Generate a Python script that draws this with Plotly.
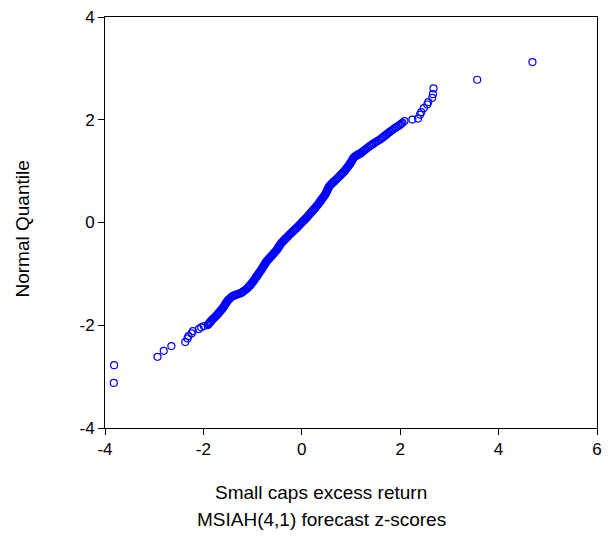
import plotly.graph_objects as go

# Normal Q-Q plot: sorted forecast z-scores (x) against normal quantiles (y)

# lower tail
low_z = [-3.821, -3.815, -2.933, -2.806, -2.651, -2.369, -2.323, -2.302,
         -2.240, -2.214, -2.093, -2.046, -1.990, -1.911]
low_q = [-3.122, -2.777, -2.615, -2.498, -2.406, -2.327, -2.256, -2.211,
         -2.160, -2.113, -2.074, -2.041, -2.016, -1.996]

# central body
body_q = [-1.98, -1.96, -1.94, -1.92, -1.90, -1.88, -1.86, -1.84, -1.82, -1.80,
          -1.78, -1.76, -1.74, -1.72, -1.70, -1.68, -1.66, -1.64, -1.62, -1.60,
          -1.58, -1.56, -1.54, -1.52, -1.50, -1.48, -1.46, -1.44, -1.43, -1.42,
          -1.41, -1.40, -1.39, -1.38, -1.37, -1.36, -1.35, -1.34, -1.32, -1.30,
          -1.28, -1.26, -1.24, -1.22, -1.20, -1.18, -1.16, -1.14, -1.12, -1.10,
          -1.08, -1.06, -1.04, -1.02, -1.00, -0.98, -0.96, -0.94, -0.92, -0.90,
          -0.88, -0.86, -0.84, -0.82, -0.80, -0.78, -0.76, -0.74, -0.72, -0.70,
          -0.68, -0.66, -0.64, -0.62, -0.60, -0.58, -0.56, -0.54, -0.52, -0.50,
          -0.48, -0.46, -0.44, -0.42, -0.40, -0.38, -0.36, -0.34, -0.32, -0.30,
          -0.28, -0.26, -0.24, -0.22, -0.20, -0.18, -0.16, -0.14, -0.12, -0.10,
          -0.08, -0.06, -0.04, -0.02, 0.00, 0.02, 0.04, 0.06, 0.08, 0.10,
          0.12, 0.14, 0.16, 0.18, 0.20, 0.22, 0.24, 0.26, 0.28, 0.30,
          0.32, 0.34, 0.36, 0.38, 0.40, 0.42, 0.44, 0.46, 0.48, 0.50,
          0.52, 0.54, 0.56, 0.58, 0.60, 0.62, 0.64, 0.66, 0.68, 0.70,
          0.72, 0.74, 0.76, 0.78, 0.80, 0.82, 0.84, 0.86, 0.88, 0.90,
          0.92, 0.94, 0.96, 0.98, 1.00, 1.02, 1.04, 1.06, 1.08, 1.10,
          1.12, 1.14, 1.16, 1.18, 1.20, 1.22, 1.24, 1.26, 1.28, 1.29,
          1.30, 1.31, 1.32, 1.33, 1.34, 1.35, 1.36, 1.38, 1.40, 1.42,
          1.44, 1.46, 1.48, 1.50, 1.52, 1.54, 1.56, 1.58, 1.60, 1.62,
          1.64, 1.66, 1.68, 1.70, 1.72, 1.74, 1.76, 1.78, 1.80, 1.82,
          1.84, 1.86, 1.88, 1.90, 1.92, 1.94]
body_z = [-1.897, -1.881, -1.864, -1.847, -1.826, -1.806, -1.785, -1.764, -1.744, -1.723,
          -1.705, -1.688, -1.670, -1.652, -1.635, -1.617, -1.600, -1.587, -1.574, -1.560,
          -1.547, -1.533, -1.520, -1.504, -1.483, -1.462, -1.442, -1.421, -1.395, -1.370,
          -1.344, -1.318, -1.288, -1.259, -1.229, -1.211, -1.198, -1.185, -1.158, -1.130,
          -1.105, -1.086, -1.068, -1.049, -1.030, -1.011, -0.996, -0.981, -0.967, -0.953,
          -0.938, -0.924, -0.910, -0.895, -0.881, -0.866, -0.851, -0.837, -0.822, -0.809,
          -0.796, -0.783, -0.770, -0.757, -0.744, -0.731, -0.718, -0.700, -0.681, -0.662,
          -0.643, -0.624, -0.606, -0.587, -0.568, -0.550, -0.531, -0.513, -0.499, -0.485,
          -0.471, -0.457, -0.443, -0.430, -0.416, -0.397, -0.376, -0.355, -0.335, -0.314,
          -0.293, -0.273, -0.252, -0.232, -0.211, -0.188, -0.165, -0.142, -0.119, -0.098,
          -0.079, -0.059, -0.039, -0.020, 0.000, 0.021, 0.042, 0.063, 0.084, 0.104,
          0.122, 0.140, 0.157, 0.175, 0.193, 0.212, 0.230, 0.249, 0.268, 0.286,
          0.303, 0.319, 0.335, 0.351, 0.367, 0.383, 0.398, 0.413, 0.429, 0.444,
          0.459, 0.474, 0.484, 0.495, 0.505, 0.515, 0.526, 0.536, 0.546, 0.557,
          0.569, 0.592, 0.614, 0.637, 0.659, 0.681, 0.703, 0.724, 0.744, 0.765,
          0.786, 0.806, 0.827, 0.847, 0.868, 0.884, 0.900, 0.916, 0.931, 0.947,
          0.963, 0.978, 0.994, 1.006, 1.018, 1.029, 1.040, 1.051, 1.072, 1.090,
          1.108, 1.126, 1.145, 1.163, 1.181, 1.199, 1.214, 1.240, 1.266, 1.292,
          1.318, 1.344, 1.374, 1.403, 1.433, 1.463, 1.495, 1.529, 1.564, 1.598,
          1.625, 1.651, 1.677, 1.704, 1.730, 1.756, 1.784, 1.811, 1.839, 1.867,
          1.899, 1.931, 1.964, 1.996, 2.022, 2.046]

# upper tail
high_z = [2.087, 2.248, 2.363, 2.403, 2.429, 2.480, 2.550, 2.571, 2.651,
          2.665, 2.677, 3.565, 4.688]
high_q = [1.975, 2.004, 2.023, 2.101, 2.150, 2.228, 2.297, 2.345, 2.427,
          2.498, 2.609, 2.779, 3.122]

x_ticks = [-4, -2, 0, 2, 4, 6]
x_tick_text = ["-4", "-2", "0", "2", "4", "6"]
y_ticks = [-4, -2, 0, 2, 4]
y_tick_text = ["-4", "-2", "0", "2", "4"]

zscores = low_z + body_z + high_z
quantiles = low_q + body_q + high_q

FONT = "Arial, Liberation Sans, sans-serif"

fig = go.Figure(
    go.Scatter(
        x=zscores, y=quantiles, mode="markers",
        marker=dict(symbol="circle-open", size=7, color="#0000FF",
                    line=dict(width=1.2, color="#0000FF")),
        hoverinfo="x+y",
    )
)

axis_common = dict(
    showline=True, mirror=True, linecolor="black", linewidth=1,
    ticks="outside", ticklen=6, tickwidth=1, tickcolor="black",
    showgrid=False, zeroline=False,
    tickfont=dict(family=FONT, size=17, color="black"),
)

title_font = dict(family=FONT, size=19, color="black")

fig.update_layout(
    width=608, height=538,
    margin=dict(l=105, r=6, t=17, b=110),
    paper_bgcolor="white", plot_bgcolor="white",
    showlegend=False,
    xaxis=dict(range=[-4, 6], tickvals=x_ticks, ticktext=x_tick_text, **axis_common),
    yaxis=dict(range=[-4, 4], tickvals=y_ticks, ticktext=y_tick_text, **axis_common),
    annotations=[
        dict(text="Small caps excess return", xref="paper", yref="paper",
             x=0.44, y=-0.158, xanchor="center", yanchor="middle",
             showarrow=False, font=title_font),
        dict(text="MSIAH(4,1) forecast z-scores", xref="paper", yref="paper",
             x=0.44, y=-0.223, xanchor="center", yanchor="middle",
             showarrow=False, font=title_font),
        dict(text="Normal Quantile", xref="paper", yref="paper",
             x=-0.167, y=0.485, xanchor="center", yanchor="middle", textangle=-90,
             showarrow=False, font=title_font),
    ],
)

fig.write_html("out.html")
